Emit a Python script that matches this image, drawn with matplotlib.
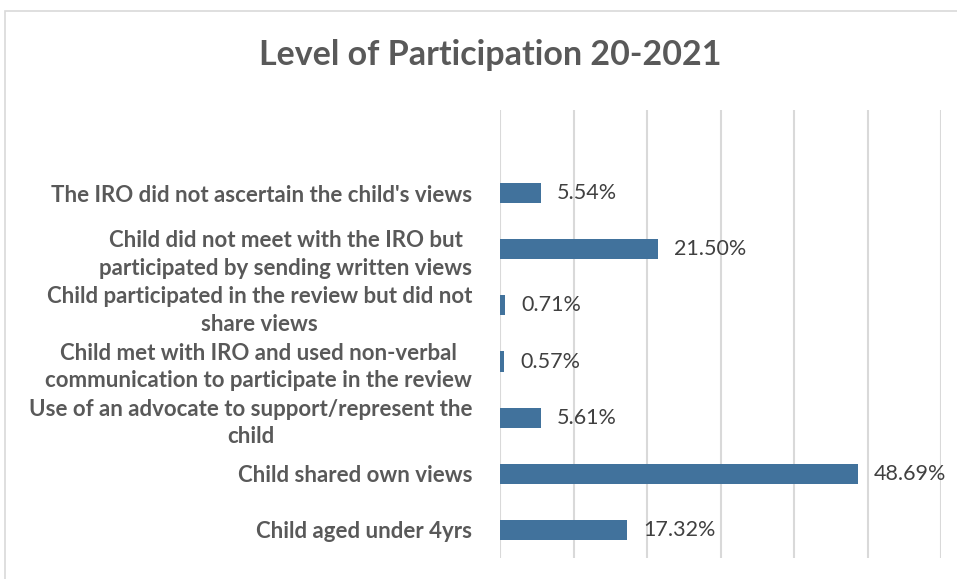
import numpy as np
import matplotlib.pyplot as plt
from matplotlib.patches import Rectangle


categories = [
    "The IRO did not ascertain the child's views",
    "Child did not meet with the IRO but\nparticipated by sending written views",
    "Child participated in the review but did not\nshare views",
    "Child met with IRO and used non-verbal\ncommunication to participate in the review",
    "Use of an advocate to support/represent the\nchild",
    "Child shared own views",
    "Child aged under 4yrs",
]
values = [5.54, 21.50, 0.71, 0.57, 5.61, 48.69, 17.32]
title = "Level of Participation 20-2021"

BAR = '#41729c'
TEXT = '#595959'
GRID = '#d9d9d9'


def main():
    plt.rcParams['font.family'] = ['Lato', 'DejaVu Sans']

    fig = plt.figure(figsize=(9.57, 5.79), dpi=100)
    # chart border
    fig.patches.append(Rectangle((5 / 957, -0.1), 1.1, 1 - 11 / 579 + 0.1,
                                 transform=fig.transFigure, fill=False,
                                 edgecolor=GRID, linewidth=1.2))

    ax = fig.add_axes([500 / 957, 1 - 558 / 579, 441 / 957, 448 / 579])
    y = np.arange(len(categories))
    ax.barh(y, values, height=0.36, color=BAR, zorder=3)

    for yi, v in zip(y, values):
        ax.annotate(f"{v:.2f}%", (v, yi), xytext=(11.5, 0), textcoords='offset points',
                    va='center', ha='left', fontsize=15.5, color='#404040')

    ax.set_xlim(0, 60)
    ax.set_ylim(6.5, -1.48)
    ax.set_xticks(np.arange(0, 61, 10))
    ax.set_xticklabels([])
    ax.grid(axis='x', color=GRID, linewidth=1.5, zorder=0)
    ax.tick_params(length=0)
    ax.set_yticks(y)
    ax.set_yticklabels(categories, fontsize=16, fontweight='bold', color=TEXT,
                       linespacing=1.4)
    ax.tick_params(axis='y', pad=20)
    for lab in ax.get_yticklabels():
        lab.set_multialignment('center')
    for s in ax.spines.values():
        s.set_visible(False)

    fig.text(490 / 957, 1 - 55 / 579, title, ha='center', va='center',
             fontsize=24.5, fontweight='bold', color=TEXT)

    fig.savefig('out.png', dpi=100)


if __name__ == "__main__":
    main()
